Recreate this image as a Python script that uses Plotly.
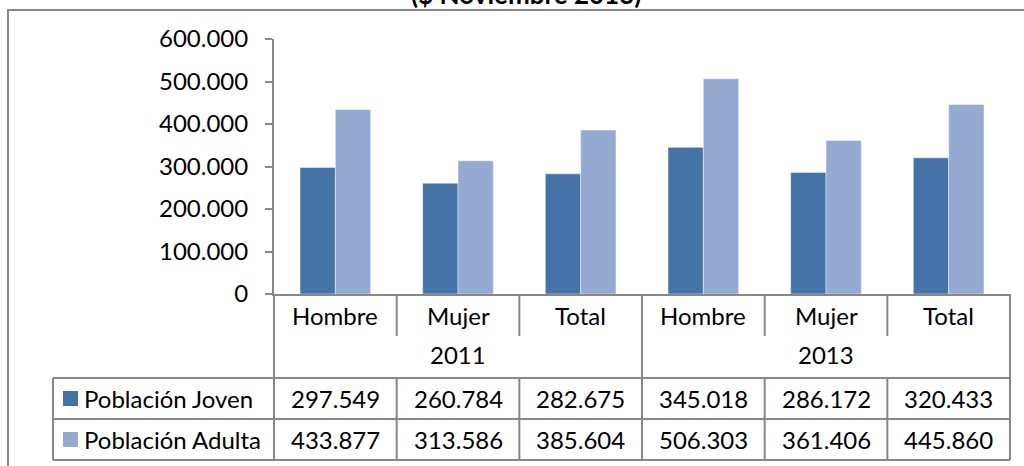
import plotly.graph_objects as go

# ---- data ----
categories = ["Hombre", "Mujer", "Total", "Hombre", "Mujer", "Total"]
years = ["2011", "2013"]
series_names = ["Población Joven", "Población Adulta"]
joven = [297549, 260784, 282675, 345018, 286172, 320433]
adulta = [433877, 313586, 385604, 506303, 361406, 445860]
y_ticks = [0, 100000, 200000, 300000, 400000, 500000, 600000]
title_text = "($ Noviembre 2013)"

# ---- style ----
colors = ["#4673A7", "#95AAD0"]
grey = "#878787"
FONT = "Lato"
FS = 24

W, H = 1024, 466
ML, MR, MT, MB = 274, 14, 39, 172
PW, PH = W - ML - MR, H - MT - MB


def xp(px):
    return (px - ML) / PW


def yp(py):
    return (H - MB - py) / PH


def fmt(v):
    return f"{v:,}".replace(",", ".")


xs = list(range(len(categories)))
fig = go.Figure()
for name, vals, col in zip(series_names, [joven, adulta], colors):
    fig.add_trace(go.Bar(
        x=xs, y=vals, name=name,
        marker=dict(color=col, line=dict(color="rgba(255,255,255,0.45)", width=1)),
        showlegend=False, hoverinfo="y",
    ))

shapes = []
ann = []
n = len(categories)


def line(x0, y0, x1, y1, w=2):
    shapes.append(dict(type="line", xref="paper", yref="paper",
                       x0=x0, y0=y0, x1=x1, y1=y1,
                       line=dict(color=grey, width=w)))


# outer chart border
shapes.append(dict(type="rect", xref="paper", yref="paper",
                   x0=xp(8), y0=yp(10), x1=xp(1040), y1=yp(490),
                   line=dict(color=grey, width=2)))

# category row separators
for i in range(n + 1):
    line(i / n, yp(294), i / n, yp(336))
# year row separators (major)
for i in range(0, n + 1, 3):
    line(i / n, yp(294), i / n, yp(378))
# data table
line(xp(53), yp(378), 1, yp(378))
line(xp(53), yp(419), 1, yp(419))
line(xp(53), yp(460), 1, yp(460))
line(xp(53), yp(378), xp(53), yp(460))
for i in range(n + 1):
    line(i / n, yp(378), i / n, yp(460))

# legend keys
for r, col in enumerate(colors):
    cy = 398.5 + 41 * r
    shapes.append(dict(type="rect", xref="paper", yref="paper",
                       x0=xp(63), x1=xp(78), y0=yp(cy - 7.5), y1=yp(cy + 7.5),
                       fillcolor=col, line=dict(width=0)))
    ann.append(dict(text=series_names[r], xref="paper", yref="paper",
                    x=xp(82), y=yp(cy), xanchor="left", yanchor="middle",
                    showarrow=False, font=dict(family=FONT, size=FS, color="black")))

# category labels
for i, c in enumerate(categories):
    ann.append(dict(text=c, xref="paper", yref="paper",
                    x=(i + 0.5) / n, y=yp(315), xanchor="center", yanchor="middle",
                    showarrow=False, font=dict(family=FONT, size=FS, color="black")))
# year labels
for j, yr in enumerate(years):
    ann.append(dict(text=yr, xref="paper", yref="paper",
                    x=(j * 3 + 1.5) / n, y=yp(354), xanchor="center", yanchor="middle",
                    showarrow=False, font=dict(family=FONT, size=FS, color="black")))
# table values
for r, vals in enumerate([joven, adulta]):
    cy = 398.5 + 41 * r
    for i, v in enumerate(vals):
        ann.append(dict(text=fmt(v), xref="paper", yref="paper",
                        x=(i + 0.5) / n, y=yp(cy), xanchor="center", yanchor="middle",
                        showarrow=False, font=dict(family=FONT, size=FS, color="black")))

# clipped title (only its bottom visible, as in the reference)
ann.append(dict(text=f"<b>{title_text}</b>", xref="paper", yref="paper",
                x=xp(526), y=yp(-6), xanchor="center", yanchor="middle",
                showarrow=False, font=dict(family=FONT, size=26, color="black")))

fig.update_layout(
    width=W, height=H,
    margin=dict(l=ML, r=MR, t=MT, b=MB, pad=0, autoexpand=False),
    paper_bgcolor="white", plot_bgcolor="white",
    barmode="group", bargap=0.424, bargroupgap=0,
    separators=",.",
    shapes=shapes, annotations=ann,
    xaxis=dict(range=[-0.5, n - 0.5], showticklabels=False, ticks="",
               showgrid=False, zeroline=False, showline=True,
               linecolor=grey, linewidth=2, fixedrange=True),
    yaxis=dict(range=[0, 600000], tickvals=y_ticks, tickformat=",d",
               ticks="outside", ticklen=7, tickwidth=2, tickcolor=grey,
               showgrid=False, zeroline=False, showline=True,
               linecolor=grey, linewidth=2, ticklabelstandoff=12,
               tickfont=dict(family=FONT, size=FS, color="black"), fixedrange=True),
    font=dict(family=FONT, size=FS, color="black"),
)

fig.write_html(
    "out.html",
    config={"displayModeBar": False},
    post_script="document.body.style.margin='0';document.body.style.overflow='hidden';",
)
